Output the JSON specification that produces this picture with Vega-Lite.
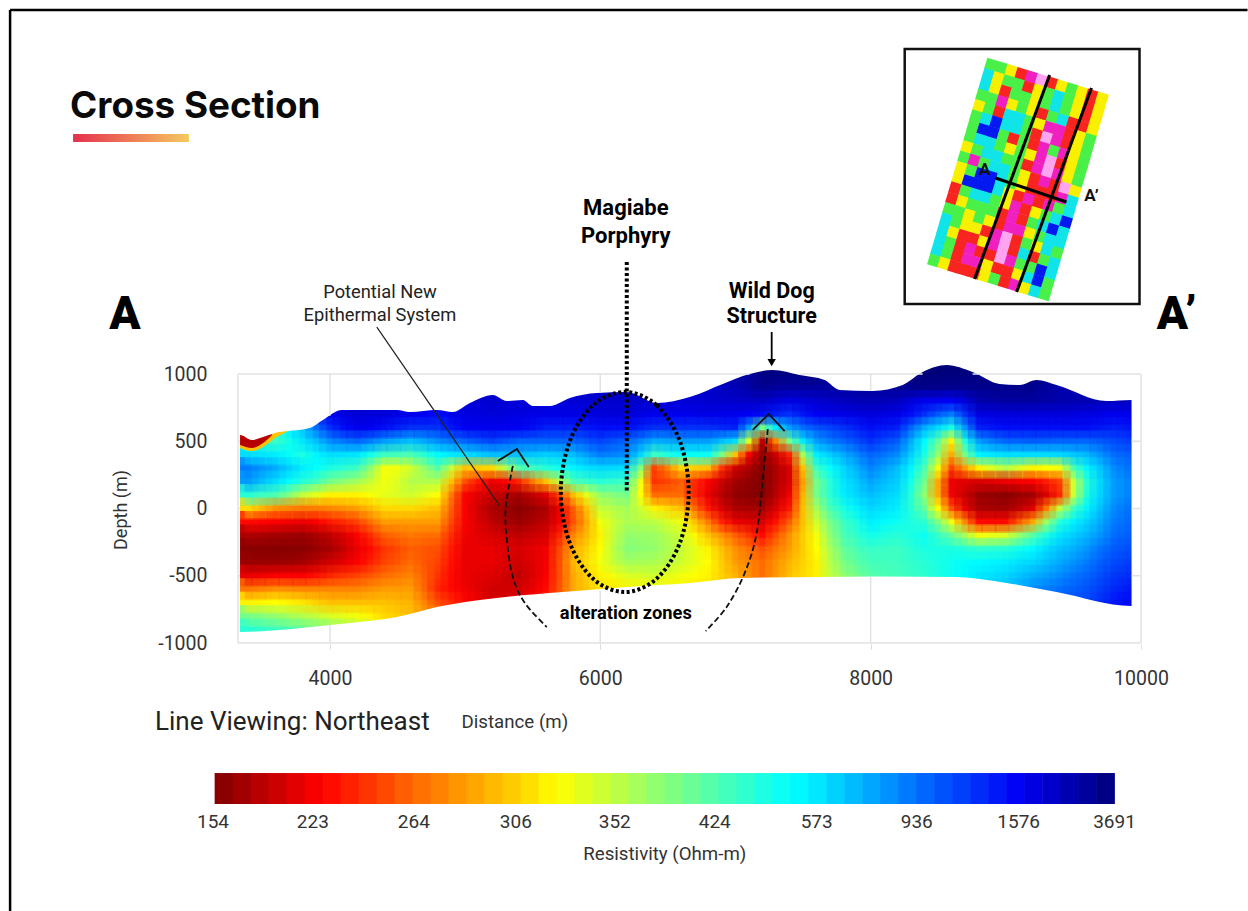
{"$schema":"https://vega.github.io/schema/vega-lite/v6.json","width":903,"height":269,"autosize":"none","padding":{"left":238,"top":374,"right":107,"bottom":268},"background":"white","config":{"view":{"stroke":null},"text":{"font":"Roboto","color":"#111"}},
"datasets":{"grid":[
{"x":3400,"y":600,"r":600},{"x":3400,"y":500,"r":500},{"x":3400,"y":400,"r":600},{"x":3400,"y":300,"r":900},{"x":3400,"y":200,"r":800},{"x":3400,"y":100,"r":480},{"x":3400,"y":0,"r":310},{"x":3400,"y":-100,"r":230},{"x":3400,"y":-200,"r":180},{"x":3400,"y":-300,"r":160},{"x":3400,"y":-400,"r":170},{"x":3400,"y":-500,"r":215},{"x":3400,"y":-600,"r":270},{"x":3400,"y":-700,"r":320},{"x":3400,"y":-800,"r":400},{"x":3400,"y":-900,"r":480},
{"x":3500,"y":600,"r":520},{"x":3500,"y":500,"r":470},{"x":3500,"y":400,"r":580},{"x":3500,"y":300,"r":820},{"x":3500,"y":200,"r":690},{"x":3500,"y":100,"r":450},{"x":3500,"y":0,"r":295},{"x":3500,"y":-100,"r":228},{"x":3500,"y":-200,"r":178},{"x":3500,"y":-300,"r":159},{"x":3500,"y":-400,"r":170},{"x":3500,"y":-500,"r":220},{"x":3500,"y":-600,"r":275},{"x":3500,"y":-700,"r":322},{"x":3500,"y":-800,"r":390},{"x":3500,"y":-900,"r":465},
{"x":3600,"y":600,"r":450},{"x":3600,"y":500,"r":450},{"x":3600,"y":400,"r":560},{"x":3600,"y":300,"r":750},{"x":3600,"y":200,"r":600},{"x":3600,"y":100,"r":430},{"x":3600,"y":0,"r":280},{"x":3600,"y":-100,"r":225},{"x":3600,"y":-200,"r":175},{"x":3600,"y":-300,"r":158},{"x":3600,"y":-400,"r":170},{"x":3600,"y":-500,"r":225},{"x":3600,"y":-600,"r":280},{"x":3600,"y":-700,"r":325},{"x":3600,"y":-800,"r":380},{"x":3600,"y":-900,"r":450},
{"x":3700,"y":700,"r":700},{"x":3700,"y":600,"r":560},{"x":3700,"y":500,"r":510},{"x":3700,"y":400,"r":530},{"x":3700,"y":300,"r":650},{"x":3700,"y":200,"r":535},{"x":3700,"y":100,"r":390},{"x":3700,"y":0,"r":275},{"x":3700,"y":-100,"r":220},{"x":3700,"y":-200,"r":172},{"x":3700,"y":-300,"r":159},{"x":3700,"y":-400,"r":172},{"x":3700,"y":-500,"r":225},{"x":3700,"y":-600,"r":278},{"x":3700,"y":-700,"r":320},{"x":3700,"y":-800,"r":370},{"x":3700,"y":-900,"r":435},
{"x":3800,"y":700,"r":900},{"x":3800,"y":600,"r":700},{"x":3800,"y":500,"r":580},{"x":3800,"y":400,"r":500},{"x":3800,"y":300,"r":560},{"x":3800,"y":200,"r":480},{"x":3800,"y":100,"r":350},{"x":3800,"y":0,"r":270},{"x":3800,"y":-100,"r":215},{"x":3800,"y":-200,"r":170},{"x":3800,"y":-300,"r":160},{"x":3800,"y":-400,"r":175},{"x":3800,"y":-500,"r":225},{"x":3800,"y":-600,"r":275},{"x":3800,"y":-700,"r":315},{"x":3800,"y":-800,"r":360},{"x":3800,"y":-900,"r":420},
{"x":3900,"y":800,"r":1500},{"x":3900,"y":700,"r":1250},{"x":3900,"y":600,"r":950},{"x":3900,"y":500,"r":700},{"x":3900,"y":400,"r":550},{"x":3900,"y":300,"r":530},{"x":3900,"y":200,"r":440},{"x":3900,"y":100,"r":335},{"x":3900,"y":0,"r":272},{"x":3900,"y":-100,"r":225},{"x":3900,"y":-200,"r":180},{"x":3900,"y":-300,"r":167},{"x":3900,"y":-400,"r":187},{"x":3900,"y":-500,"r":232},{"x":3900,"y":-600,"r":275},{"x":3900,"y":-700,"r":307},{"x":3900,"y":-800,"r":350},{"x":3900,"y":-900,"r":410},
{"x":4000,"y":800,"r":1900},{"x":4000,"y":700,"r":1700},{"x":4000,"y":600,"r":1300},{"x":4000,"y":500,"r":850},{"x":4000,"y":400,"r":600},{"x":4000,"y":300,"r":500},{"x":4000,"y":200,"r":400},{"x":4000,"y":100,"r":320},{"x":4000,"y":0,"r":275},{"x":4000,"y":-100,"r":235},{"x":4000,"y":-200,"r":190},{"x":4000,"y":-300,"r":175},{"x":4000,"y":-400,"r":200},{"x":4000,"y":-500,"r":240},{"x":4000,"y":-600,"r":275},{"x":4000,"y":-700,"r":300},{"x":4000,"y":-800,"r":340},{"x":4000,"y":-900,"r":400},
{"x":4100,"y":800,"r":2050},{"x":4100,"y":700,"r":1900},{"x":4100,"y":600,"r":1500},{"x":4100,"y":500,"r":920},{"x":4100,"y":400,"r":590},{"x":4100,"y":300,"r":475},{"x":4100,"y":200,"r":385},{"x":4100,"y":100,"r":320},{"x":4100,"y":0,"r":280},{"x":4100,"y":-100,"r":242},{"x":4100,"y":-200,"r":207},{"x":4100,"y":-300,"r":193},{"x":4100,"y":-400,"r":212},{"x":4100,"y":-500,"r":245},{"x":4100,"y":-600,"r":275},{"x":4100,"y":-700,"r":300},{"x":4100,"y":-800,"r":335},{"x":4100,"y":-900,"r":380},
{"x":4200,"y":800,"r":2200},{"x":4200,"y":700,"r":2100},{"x":4200,"y":600,"r":1700},{"x":4200,"y":500,"r":1000},{"x":4200,"y":400,"r":580},{"x":4200,"y":300,"r":450},{"x":4200,"y":200,"r":370},{"x":4200,"y":100,"r":320},{"x":4200,"y":0,"r":285},{"x":4200,"y":-100,"r":250},{"x":4200,"y":-200,"r":225},{"x":4200,"y":-300,"r":215},{"x":4200,"y":-400,"r":225},{"x":4200,"y":-500,"r":250},{"x":4200,"y":-600,"r":275},{"x":4200,"y":-700,"r":300},{"x":4200,"y":-800,"r":330},{"x":4200,"y":-900,"r":360},
{"x":4300,"y":800,"r":2150},{"x":4300,"y":700,"r":2050},{"x":4300,"y":600,"r":1600},{"x":4300,"y":500,"r":900},{"x":4300,"y":400,"r":510},{"x":4300,"y":300,"r":385},{"x":4300,"y":200,"r":350},{"x":4300,"y":100,"r":327},{"x":4300,"y":0,"r":297},{"x":4300,"y":-100,"r":267},{"x":4300,"y":-200,"r":242},{"x":4300,"y":-300,"r":230},{"x":4300,"y":-400,"r":237},{"x":4300,"y":-500,"r":257},{"x":4300,"y":-600,"r":280},{"x":4300,"y":-700,"r":300},{"x":4300,"y":-800,"r":320},{"x":4300,"y":-900,"r":345},
{"x":4400,"y":800,"r":2100},{"x":4400,"y":700,"r":2000},{"x":4400,"y":600,"r":1500},{"x":4400,"y":500,"r":800},{"x":4400,"y":400,"r":450},{"x":4400,"y":300,"r":330},{"x":4400,"y":200,"r":330},{"x":4400,"y":100,"r":335},{"x":4400,"y":0,"r":310},{"x":4400,"y":-100,"r":285},{"x":4400,"y":-200,"r":260},{"x":4400,"y":-300,"r":245},{"x":4400,"y":-400,"r":250},{"x":4400,"y":-500,"r":265},{"x":4400,"y":-600,"r":285},{"x":4400,"y":-700,"r":300},{"x":4400,"y":-800,"r":310},{"x":4400,"y":-900,"r":330},
{"x":4500,"y":800,"r":2050},{"x":4500,"y":700,"r":1850},{"x":4500,"y":600,"r":1400},{"x":4500,"y":500,"r":750},{"x":4500,"y":400,"r":440},{"x":4500,"y":300,"r":330},{"x":4500,"y":200,"r":340},{"x":4500,"y":100,"r":340},{"x":4500,"y":0,"r":310},{"x":4500,"y":-100,"r":285},{"x":4500,"y":-200,"r":265},{"x":4500,"y":-300,"r":252},{"x":4500,"y":-400,"r":257},{"x":4500,"y":-500,"r":270},{"x":4500,"y":-600,"r":285},{"x":4500,"y":-700,"r":297},{"x":4500,"y":-800,"r":305},
{"x":4600,"y":800,"r":2000},{"x":4600,"y":700,"r":1700},{"x":4600,"y":600,"r":1300},{"x":4600,"y":500,"r":700},{"x":4600,"y":400,"r":430},{"x":4600,"y":300,"r":345},{"x":4600,"y":200,"r":360},{"x":4600,"y":100,"r":345},{"x":4600,"y":0,"r":310},{"x":4600,"y":-100,"r":285},{"x":4600,"y":-200,"r":270},{"x":4600,"y":-300,"r":260},{"x":4600,"y":-400,"r":265},{"x":4600,"y":-500,"r":275},{"x":4600,"y":-600,"r":285},{"x":4600,"y":-700,"r":295},{"x":4600,"y":-800,"r":300},
{"x":4700,"y":800,"r":1950},{"x":4700,"y":700,"r":1600},{"x":4700,"y":600,"r":1300},{"x":4700,"y":500,"r":770},{"x":4700,"y":400,"r":480},{"x":4700,"y":300,"r":380},{"x":4700,"y":200,"r":360},{"x":4700,"y":100,"r":335},{"x":4700,"y":0,"r":305},{"x":4700,"y":-100,"r":285},{"x":4700,"y":-200,"r":267},{"x":4700,"y":-300,"r":257},{"x":4700,"y":-400,"r":257},{"x":4700,"y":-500,"r":260},{"x":4700,"y":-600,"r":262},{"x":4700,"y":-700,"r":275},{"x":4700,"y":-800,"r":285},
{"x":4800,"y":800,"r":1900},{"x":4800,"y":700,"r":1500},{"x":4800,"y":600,"r":1300},{"x":4800,"y":500,"r":850},{"x":4800,"y":400,"r":540},{"x":4800,"y":300,"r":420},{"x":4800,"y":200,"r":360},{"x":4800,"y":100,"r":325},{"x":4800,"y":0,"r":300},{"x":4800,"y":-100,"r":285},{"x":4800,"y":-200,"r":265},{"x":4800,"y":-300,"r":255},{"x":4800,"y":-400,"r":250},{"x":4800,"y":-500,"r":245},{"x":4800,"y":-600,"r":240},{"x":4800,"y":-700,"r":255},{"x":4800,"y":-800,"r":270},
{"x":4900,"y":800,"r":1950},{"x":4900,"y":700,"r":1700},{"x":4900,"y":600,"r":1450},{"x":4900,"y":500,"r":920},{"x":4900,"y":400,"r":570},{"x":4900,"y":300,"r":350},{"x":4900,"y":200,"r":300},{"x":4900,"y":100,"r":270},{"x":4900,"y":0,"r":260},{"x":4900,"y":-100,"r":252},{"x":4900,"y":-200,"r":242},{"x":4900,"y":-300,"r":235},{"x":4900,"y":-400,"r":232},{"x":4900,"y":-500,"r":230},{"x":4900,"y":-600,"r":230},{"x":4900,"y":-700,"r":242},{"x":4900,"y":-800,"r":255},
{"x":5000,"y":800,"r":2000},{"x":5000,"y":700,"r":1900},{"x":5000,"y":600,"r":1600},{"x":5000,"y":500,"r":1000},{"x":5000,"y":400,"r":600},{"x":5000,"y":300,"r":300},{"x":5000,"y":200,"r":255},{"x":5000,"y":100,"r":225},{"x":5000,"y":0,"r":225},{"x":5000,"y":-100,"r":225},{"x":5000,"y":-200,"r":220},{"x":5000,"y":-300,"r":215},{"x":5000,"y":-400,"r":215},{"x":5000,"y":-500,"r":215},{"x":5000,"y":-600,"r":220},{"x":5000,"y":-700,"r":230},{"x":5000,"y":-800,"r":240},
{"x":5100,"y":800,"r":2100},{"x":5100,"y":700,"r":1950},{"x":5100,"y":600,"r":1650},{"x":5100,"y":500,"r":1100},{"x":5100,"y":400,"r":650},{"x":5100,"y":300,"r":305},{"x":5100,"y":200,"r":235},{"x":5100,"y":100,"r":210},{"x":5100,"y":0,"r":200},{"x":5100,"y":-100,"r":207},{"x":5100,"y":-200,"r":212},{"x":5100,"y":-300,"r":215},{"x":5100,"y":-400,"r":215},{"x":5100,"y":-500,"r":212},{"x":5100,"y":-600,"r":210},{"x":5100,"y":-700,"r":217},{"x":5100,"y":-800,"r":225},
{"x":5200,"y":900,"r":2300},{"x":5200,"y":800,"r":2200},{"x":5200,"y":700,"r":2000},{"x":5200,"y":600,"r":1700},{"x":5200,"y":500,"r":1200},{"x":5200,"y":400,"r":700},{"x":5200,"y":300,"r":310},{"x":5200,"y":200,"r":215},{"x":5200,"y":100,"r":195},{"x":5200,"y":0,"r":180},{"x":5200,"y":-100,"r":190},{"x":5200,"y":-200,"r":205},{"x":5200,"y":-300,"r":215},{"x":5200,"y":-400,"r":215},{"x":5200,"y":-500,"r":210},{"x":5200,"y":-600,"r":200},{"x":5200,"y":-700,"r":205},
{"x":5300,"y":900,"r":2250},{"x":5300,"y":800,"r":2150},{"x":5300,"y":700,"r":1950},{"x":5300,"y":600,"r":1650},{"x":5300,"y":500,"r":1100},{"x":5300,"y":400,"r":700},{"x":5300,"y":300,"r":360},{"x":5300,"y":200,"r":227},{"x":5300,"y":100,"r":185},{"x":5300,"y":0,"r":170},{"x":5300,"y":-100,"r":180},{"x":5300,"y":-200,"r":197},{"x":5300,"y":-300,"r":210},{"x":5300,"y":-400,"r":207},{"x":5300,"y":-500,"r":200},{"x":5300,"y":-600,"r":200},{"x":5300,"y":-700,"r":207},
{"x":5400,"y":900,"r":2200},{"x":5400,"y":800,"r":2100},{"x":5400,"y":700,"r":1900},{"x":5400,"y":600,"r":1600},{"x":5400,"y":500,"r":1000},{"x":5400,"y":400,"r":700},{"x":5400,"y":300,"r":420},{"x":5400,"y":200,"r":240},{"x":5400,"y":100,"r":175},{"x":5400,"y":0,"r":160},{"x":5400,"y":-100,"r":170},{"x":5400,"y":-200,"r":190},{"x":5400,"y":-300,"r":205},{"x":5400,"y":-400,"r":200},{"x":5400,"y":-500,"r":190},{"x":5400,"y":-600,"r":200},{"x":5400,"y":-700,"r":210},
{"x":5500,"y":900,"r":2150},{"x":5500,"y":800,"r":2050},{"x":5500,"y":700,"r":1850},{"x":5500,"y":600,"r":1500},{"x":5500,"y":500,"r":1000},{"x":5500,"y":400,"r":675},{"x":5500,"y":300,"r":450},{"x":5500,"y":200,"r":270},{"x":5500,"y":100,"r":192},{"x":5500,"y":0,"r":170},{"x":5500,"y":-100,"r":180},{"x":5500,"y":-200,"r":197},{"x":5500,"y":-300,"r":212},{"x":5500,"y":-400,"r":210},{"x":5500,"y":-500,"r":207},{"x":5500,"y":-600,"r":215},{"x":5500,"y":-700,"r":225},
{"x":5600,"y":900,"r":2100},{"x":5600,"y":800,"r":2000},{"x":5600,"y":700,"r":1800},{"x":5600,"y":600,"r":1400},{"x":5600,"y":500,"r":1000},{"x":5600,"y":400,"r":650},{"x":5600,"y":300,"r":480},{"x":5600,"y":200,"r":300},{"x":5600,"y":100,"r":210},{"x":5600,"y":0,"r":180},{"x":5600,"y":-100,"r":190},{"x":5600,"y":-200,"r":205},{"x":5600,"y":-300,"r":220},{"x":5600,"y":-400,"r":220},{"x":5600,"y":-500,"r":225},{"x":5600,"y":-600,"r":230},{"x":5600,"y":-700,"r":240},
{"x":5700,"y":900,"r":2150},{"x":5700,"y":800,"r":2050},{"x":5700,"y":700,"r":1800},{"x":5700,"y":600,"r":1400},{"x":5700,"y":500,"r":1000},{"x":5700,"y":400,"r":675},{"x":5700,"y":300,"r":515},{"x":5700,"y":200,"r":360},{"x":5700,"y":100,"r":250},{"x":5700,"y":0,"r":217},{"x":5700,"y":-100,"r":220},{"x":5700,"y":-200,"r":240},{"x":5700,"y":-300,"r":252},{"x":5700,"y":-400,"r":255},{"x":5700,"y":-500,"r":255},{"x":5700,"y":-600,"r":257},{"x":5700,"y":-700,"r":265},
{"x":5800,"y":900,"r":2200},{"x":5800,"y":800,"r":2100},{"x":5800,"y":700,"r":1800},{"x":5800,"y":600,"r":1400},{"x":5800,"y":500,"r":1000},{"x":5800,"y":400,"r":700},{"x":5800,"y":300,"r":550},{"x":5800,"y":200,"r":430},{"x":5800,"y":100,"r":300},{"x":5800,"y":0,"r":260},{"x":5800,"y":-100,"r":255},{"x":5800,"y":-200,"r":275},{"x":5800,"y":-300,"r":290},{"x":5800,"y":-400,"r":295},{"x":5800,"y":-500,"r":290},{"x":5800,"y":-600,"r":290},{"x":5800,"y":-700,"r":290},
{"x":5900,"y":900,"r":2250},{"x":5900,"y":800,"r":2150},{"x":5900,"y":700,"r":1900},{"x":5900,"y":600,"r":1450},{"x":5900,"y":500,"r":1100},{"x":5900,"y":400,"r":800},{"x":5900,"y":300,"r":585},{"x":5900,"y":200,"r":455},{"x":5900,"y":100,"r":337},{"x":5900,"y":0,"r":300},{"x":5900,"y":-100,"r":290},{"x":5900,"y":-200,"r":297},{"x":5900,"y":-300,"r":307},{"x":5900,"y":-400,"r":312},{"x":5900,"y":-500,"r":305},{"x":5900,"y":-600,"r":302},{"x":5900,"y":-700,"r":302},
{"x":6000,"y":900,"r":2300},{"x":6000,"y":800,"r":2200},{"x":6000,"y":700,"r":2000},{"x":6000,"y":600,"r":1500},{"x":6000,"y":500,"r":1200},{"x":6000,"y":400,"r":900},{"x":6000,"y":300,"r":620},{"x":6000,"y":200,"r":480},{"x":6000,"y":100,"r":380},{"x":6000,"y":0,"r":350},{"x":6000,"y":-100,"r":330},{"x":6000,"y":-200,"r":320},{"x":6000,"y":-300,"r":325},{"x":6000,"y":-400,"r":330},{"x":6000,"y":-500,"r":320},{"x":6000,"y":-600,"r":315},{"x":6000,"y":-700,"r":315},
{"x":6100,"y":900,"r":2350},{"x":6100,"y":800,"r":2250},{"x":6100,"y":700,"r":2000},{"x":6100,"y":600,"r":1500},{"x":6100,"y":500,"r":1100},{"x":6100,"y":400,"r":875},{"x":6100,"y":300,"r":610},{"x":6100,"y":200,"r":465},{"x":6100,"y":100,"r":390},{"x":6100,"y":0,"r":360},{"x":6100,"y":-100,"r":347},{"x":6100,"y":-200,"r":350},{"x":6100,"y":-300,"r":355},{"x":6100,"y":-400,"r":350},{"x":6100,"y":-500,"r":330},{"x":6100,"y":-600,"r":317},{"x":6100,"y":-700,"r":317},
{"x":6200,"y":900,"r":2400},{"x":6200,"y":800,"r":2300},{"x":6200,"y":700,"r":2000},{"x":6200,"y":600,"r":1500},{"x":6200,"y":500,"r":1000},{"x":6200,"y":400,"r":850},{"x":6200,"y":300,"r":600},{"x":6200,"y":200,"r":450},{"x":6200,"y":100,"r":400},{"x":6200,"y":0,"r":370},{"x":6200,"y":-100,"r":365},{"x":6200,"y":-200,"r":380},{"x":6200,"y":-300,"r":390},{"x":6200,"y":-400,"r":370},{"x":6200,"y":-500,"r":340},{"x":6200,"y":-600,"r":320},{"x":6200,"y":-700,"r":320},
{"x":6300,"y":900,"r":2350},{"x":6300,"y":800,"r":2250},{"x":6300,"y":700,"r":1850},{"x":6300,"y":600,"r":1400},{"x":6300,"y":500,"r":870},{"x":6300,"y":400,"r":620},{"x":6300,"y":300,"r":390},{"x":6300,"y":200,"r":330},{"x":6300,"y":100,"r":325},{"x":6300,"y":0,"r":345},{"x":6300,"y":-100,"r":360},{"x":6300,"y":-200,"r":377},{"x":6300,"y":-300,"r":385},{"x":6300,"y":-400,"r":367},{"x":6300,"y":-500,"r":342},{"x":6300,"y":-600,"r":322},
{"x":6400,"y":900,"r":2300},{"x":6400,"y":800,"r":2200},{"x":6400,"y":700,"r":1700},{"x":6400,"y":600,"r":1300},{"x":6400,"y":500,"r":750},{"x":6400,"y":400,"r":450},{"x":6400,"y":300,"r":250},{"x":6400,"y":200,"r":245},{"x":6400,"y":100,"r":265},{"x":6400,"y":0,"r":320},{"x":6400,"y":-100,"r":355},{"x":6400,"y":-200,"r":375},{"x":6400,"y":-300,"r":380},{"x":6400,"y":-400,"r":365},{"x":6400,"y":-500,"r":345},{"x":6400,"y":-600,"r":325},
{"x":6500,"y":900,"r":2250},{"x":6500,"y":800,"r":2150},{"x":6500,"y":700,"r":1700},{"x":6500,"y":600,"r":1300},{"x":6500,"y":500,"r":775},{"x":6500,"y":400,"r":490},{"x":6500,"y":300,"r":275},{"x":6500,"y":200,"r":250},{"x":6500,"y":100,"r":265},{"x":6500,"y":0,"r":310},{"x":6500,"y":-100,"r":342},{"x":6500,"y":-200,"r":360},{"x":6500,"y":-300,"r":365},{"x":6500,"y":-400,"r":355},{"x":6500,"y":-500,"r":337},{"x":6500,"y":-600,"r":322},
{"x":6600,"y":900,"r":2200},{"x":6600,"y":800,"r":2100},{"x":6600,"y":700,"r":1700},{"x":6600,"y":600,"r":1300},{"x":6600,"y":500,"r":800},{"x":6600,"y":400,"r":530},{"x":6600,"y":300,"r":310},{"x":6600,"y":200,"r":260},{"x":6600,"y":100,"r":265},{"x":6600,"y":0,"r":300},{"x":6600,"y":-100,"r":330},{"x":6600,"y":-200,"r":345},{"x":6600,"y":-300,"r":350},{"x":6600,"y":-400,"r":345},{"x":6600,"y":-500,"r":330},{"x":6600,"y":-600,"r":320},
{"x":6700,"y":900,"r":2250},{"x":6700,"y":800,"r":2150},{"x":6700,"y":700,"r":1750},{"x":6700,"y":600,"r":1300},{"x":6700,"y":500,"r":800},{"x":6700,"y":400,"r":525},{"x":6700,"y":300,"r":305},{"x":6700,"y":200,"r":242},{"x":6700,"y":100,"r":240},{"x":6700,"y":0,"r":265},{"x":6700,"y":-100,"r":300},{"x":6700,"y":-200,"r":322},{"x":6700,"y":-300,"r":335},{"x":6700,"y":-400,"r":335},{"x":6700,"y":-500,"r":325},{"x":6700,"y":-600,"r":317},
{"x":6800,"y":900,"r":2300},{"x":6800,"y":800,"r":2200},{"x":6800,"y":700,"r":1800},{"x":6800,"y":600,"r":1300},{"x":6800,"y":500,"r":800},{"x":6800,"y":400,"r":520},{"x":6800,"y":300,"r":300},{"x":6800,"y":200,"r":225},{"x":6800,"y":100,"r":215},{"x":6800,"y":0,"r":235},{"x":6800,"y":-100,"r":270},{"x":6800,"y":-200,"r":300},{"x":6800,"y":-300,"r":320},{"x":6800,"y":-400,"r":325},{"x":6800,"y":-500,"r":320},{"x":6800,"y":-600,"r":315},
{"x":6900,"y":1000,"r":2600},{"x":6900,"y":900,"r":2450},{"x":6900,"y":800,"r":2250},{"x":6900,"y":700,"r":1750},{"x":6900,"y":600,"r":1350},{"x":6900,"y":500,"r":700},{"x":6900,"y":400,"r":400},{"x":6900,"y":300,"r":245},{"x":6900,"y":200,"r":197},{"x":6900,"y":100,"r":187},{"x":6900,"y":0,"r":205},{"x":6900,"y":-100,"r":240},{"x":6900,"y":-200,"r":280},{"x":6900,"y":-300,"r":300},{"x":6900,"y":-400,"r":305},{"x":6900,"y":-500,"r":307},{"x":6900,"y":-600,"r":305},
{"x":7000,"y":1000,"r":2800},{"x":7000,"y":900,"r":2600},{"x":7000,"y":800,"r":2300},{"x":7000,"y":700,"r":1700},{"x":7000,"y":600,"r":1400},{"x":7000,"y":500,"r":600},{"x":7000,"y":400,"r":300},{"x":7000,"y":300,"r":200},{"x":7000,"y":200,"r":175},{"x":7000,"y":100,"r":165},{"x":7000,"y":0,"r":180},{"x":7000,"y":-100,"r":215},{"x":7000,"y":-200,"r":260},{"x":7000,"y":-300,"r":280},{"x":7000,"y":-400,"r":285},{"x":7000,"y":-500,"r":295},{"x":7000,"y":-600,"r":295},
{"x":7100,"y":1100,"r":3200},{"x":7100,"y":1000,"r":3100},{"x":7100,"y":900,"r":2900},{"x":7100,"y":800,"r":2350},{"x":7100,"y":700,"r":1600},{"x":7100,"y":600,"r":800},{"x":7100,"y":500,"r":340},{"x":7100,"y":400,"r":220},{"x":7100,"y":300,"r":178},{"x":7100,"y":200,"r":165},{"x":7100,"y":100,"r":160},{"x":7100,"y":0,"r":177},{"x":7100,"y":-100,"r":210},{"x":7100,"y":-200,"r":245},{"x":7100,"y":-300,"r":267},{"x":7100,"y":-400,"r":275},{"x":7100,"y":-500,"r":280},{"x":7100,"y":-600,"r":280},
{"x":7200,"y":1100,"r":3600},{"x":7200,"y":1000,"r":3500},{"x":7200,"y":900,"r":3200},{"x":7200,"y":800,"r":2400},{"x":7200,"y":700,"r":1500},{"x":7200,"y":600,"r":400},{"x":7200,"y":500,"r":190},{"x":7200,"y":400,"r":165},{"x":7200,"y":300,"r":158},{"x":7200,"y":200,"r":155},{"x":7200,"y":100,"r":155},{"x":7200,"y":0,"r":175},{"x":7200,"y":-100,"r":205},{"x":7200,"y":-200,"r":230},{"x":7200,"y":-300,"r":255},{"x":7200,"y":-400,"r":265},{"x":7200,"y":-500,"r":265},{"x":7200,"y":-600,"r":265},
{"x":7300,"y":1100,"r":3600},{"x":7300,"y":1000,"r":3500},{"x":7300,"y":900,"r":3100},{"x":7300,"y":800,"r":2150},{"x":7300,"y":700,"r":1400},{"x":7300,"y":600,"r":570},{"x":7300,"y":500,"r":275},{"x":7300,"y":400,"r":197},{"x":7300,"y":300,"r":180},{"x":7300,"y":200,"r":180},{"x":7300,"y":100,"r":185},{"x":7300,"y":0,"r":205},{"x":7300,"y":-100,"r":232},{"x":7300,"y":-200,"r":255},{"x":7300,"y":-300,"r":270},{"x":7300,"y":-400,"r":280},{"x":7300,"y":-500,"r":282},{"x":7300,"y":-600,"r":282},
{"x":7400,"y":1100,"r":3600},{"x":7400,"y":1000,"r":3500},{"x":7400,"y":900,"r":3000},{"x":7400,"y":800,"r":1900},{"x":7400,"y":700,"r":1300},{"x":7400,"y":600,"r":800},{"x":7400,"y":500,"r":400},{"x":7400,"y":400,"r":240},{"x":7400,"y":300,"r":205},{"x":7400,"y":200,"r":205},{"x":7400,"y":100,"r":220},{"x":7400,"y":0,"r":235},{"x":7400,"y":-100,"r":260},{"x":7400,"y":-200,"r":280},{"x":7400,"y":-300,"r":285},{"x":7400,"y":-400,"r":295},{"x":7400,"y":-500,"r":300},{"x":7400,"y":-600,"r":300},
{"x":7500,"y":1000,"r":3500},{"x":7500,"y":900,"r":3000},{"x":7500,"y":800,"r":2050},{"x":7500,"y":700,"r":1450},{"x":7500,"y":600,"r":950},{"x":7500,"y":500,"r":570},{"x":7500,"y":400,"r":370},{"x":7500,"y":300,"r":300},{"x":7500,"y":200,"r":285},{"x":7500,"y":100,"r":295},{"x":7500,"y":0,"r":300},{"x":7500,"y":-100,"r":300},{"x":7500,"y":-200,"r":305},{"x":7500,"y":-300,"r":305},{"x":7500,"y":-400,"r":307},{"x":7500,"y":-500,"r":310},{"x":7500,"y":-600,"r":310},
{"x":7600,"y":1000,"r":3500},{"x":7600,"y":900,"r":3000},{"x":7600,"y":800,"r":2200},{"x":7600,"y":700,"r":1600},{"x":7600,"y":600,"r":1100},{"x":7600,"y":500,"r":800},{"x":7600,"y":400,"r":560},{"x":7600,"y":300,"r":450},{"x":7600,"y":200,"r":400},{"x":7600,"y":100,"r":400},{"x":7600,"y":0,"r":370},{"x":7600,"y":-100,"r":345},{"x":7600,"y":-200,"r":330},{"x":7600,"y":-300,"r":325},{"x":7600,"y":-400,"r":320},{"x":7600,"y":-500,"r":320},{"x":7600,"y":-600,"r":320},
{"x":7700,"y":1000,"r":3200},{"x":7700,"y":900,"r":3000},{"x":7700,"y":800,"r":2350},{"x":7700,"y":700,"r":1700},{"x":7700,"y":600,"r":1200},{"x":7700,"y":500,"r":900},{"x":7700,"y":400,"r":650},{"x":7700,"y":300,"r":530},{"x":7700,"y":200,"r":480},{"x":7700,"y":100,"r":475},{"x":7700,"y":0,"r":430},{"x":7700,"y":-100,"r":395},{"x":7700,"y":-200,"r":380},{"x":7700,"y":-300,"r":365},{"x":7700,"y":-400,"r":355},{"x":7700,"y":-500,"r":350},{"x":7700,"y":-600,"r":350},
{"x":7800,"y":900,"r":3000},{"x":7800,"y":800,"r":2500},{"x":7800,"y":700,"r":1800},{"x":7800,"y":600,"r":1300},{"x":7800,"y":500,"r":1000},{"x":7800,"y":400,"r":750},{"x":7800,"y":300,"r":620},{"x":7800,"y":200,"r":580},{"x":7800,"y":100,"r":560},{"x":7800,"y":0,"r":500},{"x":7800,"y":-100,"r":450},{"x":7800,"y":-200,"r":430},{"x":7800,"y":-300,"r":410},{"x":7800,"y":-400,"r":395},{"x":7800,"y":-500,"r":380},{"x":7800,"y":-600,"r":380},
{"x":7900,"y":900,"r":3000},{"x":7900,"y":800,"r":2600},{"x":7900,"y":700,"r":1900},{"x":7900,"y":600,"r":1400},{"x":7900,"y":500,"r":1150},{"x":7900,"y":400,"r":870},{"x":7900,"y":300,"r":740},{"x":7900,"y":200,"r":670},{"x":7900,"y":100,"r":625},{"x":7900,"y":0,"r":555},{"x":7900,"y":-100,"r":500},{"x":7900,"y":-200,"r":470},{"x":7900,"y":-300,"r":435},{"x":7900,"y":-400,"r":417},{"x":7900,"y":-500,"r":400},{"x":7900,"y":-600,"r":400},
{"x":8000,"y":900,"r":3000},{"x":8000,"y":800,"r":2700},{"x":8000,"y":700,"r":2000},{"x":8000,"y":600,"r":1500},{"x":8000,"y":500,"r":1300},{"x":8000,"y":400,"r":1000},{"x":8000,"y":300,"r":880},{"x":8000,"y":200,"r":780},{"x":8000,"y":100,"r":700},{"x":8000,"y":0,"r":620},{"x":8000,"y":-100,"r":560},{"x":8000,"y":-200,"r":510},{"x":8000,"y":-300,"r":460},{"x":8000,"y":-400,"r":440},{"x":8000,"y":-500,"r":420},{"x":8000,"y":-600,"r":420},
{"x":8100,"y":900,"r":3100},{"x":8100,"y":800,"r":2600},{"x":8100,"y":700,"r":1900},{"x":8100,"y":600,"r":1450},{"x":8100,"y":500,"r":1170},{"x":8100,"y":400,"r":920},{"x":8100,"y":300,"r":790},{"x":8100,"y":200,"r":710},{"x":8100,"y":100,"r":650},{"x":8100,"y":0,"r":590},{"x":8100,"y":-100,"r":540},{"x":8100,"y":-200,"r":495},{"x":8100,"y":-300,"r":455},{"x":8100,"y":-400,"r":445},{"x":8100,"y":-500,"r":430},{"x":8100,"y":-600,"r":430},
{"x":8200,"y":1000,"r":3400},{"x":8200,"y":900,"r":3200},{"x":8200,"y":800,"r":2500},{"x":8200,"y":700,"r":1800},{"x":8200,"y":600,"r":1400},{"x":8200,"y":500,"r":1050},{"x":8200,"y":400,"r":850},{"x":8200,"y":300,"r":700},{"x":8200,"y":200,"r":650},{"x":8200,"y":100,"r":600},{"x":8200,"y":0,"r":560},{"x":8200,"y":-100,"r":520},{"x":8200,"y":-200,"r":480},{"x":8200,"y":-300,"r":450},{"x":8200,"y":-400,"r":450},{"x":8200,"y":-500,"r":440},{"x":8200,"y":-600,"r":440},
{"x":8300,"y":1100,"r":3600},{"x":8300,"y":1000,"r":3500},{"x":8300,"y":900,"r":3300},{"x":8300,"y":800,"r":2050},{"x":8300,"y":700,"r":1500},{"x":8300,"y":600,"r":1000},{"x":8300,"y":500,"r":750},{"x":8300,"y":400,"r":650},{"x":8300,"y":300,"r":550},{"x":8300,"y":200,"r":510},{"x":8300,"y":100,"r":480},{"x":8300,"y":0,"r":480},{"x":8300,"y":-100,"r":495},{"x":8300,"y":-200,"r":500},{"x":8300,"y":-300,"r":475},{"x":8300,"y":-400,"r":465},{"x":8300,"y":-500,"r":455},{"x":8300,"y":-600,"r":455},
{"x":8400,"y":1200,"r":3690},{"x":8400,"y":1100,"r":3690},{"x":8400,"y":1000,"r":3600},{"x":8400,"y":900,"r":3400},{"x":8400,"y":800,"r":1700},{"x":8400,"y":700,"r":1300},{"x":8400,"y":600,"r":750},{"x":8400,"y":500,"r":540},{"x":8400,"y":400,"r":500},{"x":8400,"y":300,"r":430},{"x":8400,"y":200,"r":400},{"x":8400,"y":100,"r":380},{"x":8400,"y":0,"r":410},{"x":8400,"y":-100,"r":470},{"x":8400,"y":-200,"r":520},{"x":8400,"y":-300,"r":500},{"x":8400,"y":-400,"r":480},{"x":8400,"y":-500,"r":470},{"x":8400,"y":-600,"r":470},
{"x":8500,"y":1200,"r":3690},{"x":8500,"y":1100,"r":3690},{"x":8500,"y":1000,"r":3600},{"x":8500,"y":900,"r":3350},{"x":8500,"y":800,"r":1650},{"x":8500,"y":700,"r":1080},{"x":8500,"y":600,"r":610},{"x":8500,"y":500,"r":415},{"x":8500,"y":400,"r":380},{"x":8500,"y":300,"r":330},{"x":8500,"y":200,"r":290},{"x":8500,"y":100,"r":290},{"x":8500,"y":0,"r":325},{"x":8500,"y":-100,"r":395},{"x":8500,"y":-200,"r":460},{"x":8500,"y":-300,"r":500},{"x":8500,"y":-400,"r":500},{"x":8500,"y":-500,"r":495},{"x":8500,"y":-600,"r":495},
{"x":8600,"y":1200,"r":3690},{"x":8600,"y":1100,"r":3690},{"x":8600,"y":1000,"r":3600},{"x":8600,"y":900,"r":3300},{"x":8600,"y":800,"r":1600},{"x":8600,"y":700,"r":900},{"x":8600,"y":600,"r":500},{"x":8600,"y":500,"r":320},{"x":8600,"y":400,"r":290},{"x":8600,"y":300,"r":250},{"x":8600,"y":200,"r":215},{"x":8600,"y":100,"r":220},{"x":8600,"y":0,"r":255},{"x":8600,"y":-100,"r":330},{"x":8600,"y":-200,"r":410},{"x":8600,"y":-300,"r":500},{"x":8600,"y":-400,"r":520},{"x":8600,"y":-500,"r":520},{"x":8600,"y":-600,"r":520},
{"x":8700,"y":1200,"r":3690},{"x":8700,"y":1100,"r":3690},{"x":8700,"y":1000,"r":3550},{"x":8700,"y":900,"r":3300},{"x":8700,"y":800,"r":2100},{"x":8700,"y":700,"r":1300},{"x":8700,"y":600,"r":830},{"x":8700,"y":500,"r":500},{"x":8700,"y":400,"r":400},{"x":8700,"y":300,"r":285},{"x":8700,"y":200,"r":210},{"x":8700,"y":100,"r":195},{"x":8700,"y":0,"r":215},{"x":8700,"y":-100,"r":275},{"x":8700,"y":-200,"r":365},{"x":8700,"y":-300,"r":485},{"x":8700,"y":-400,"r":530},{"x":8700,"y":-500,"r":545},{"x":8700,"y":-600,"r":560},
{"x":8800,"y":1100,"r":3690},{"x":8800,"y":1000,"r":3500},{"x":8800,"y":900,"r":3300},{"x":8800,"y":800,"r":2800},{"x":8800,"y":700,"r":1900},{"x":8800,"y":600,"r":1400},{"x":8800,"y":500,"r":800},{"x":8800,"y":400,"r":550},{"x":8800,"y":300,"r":320},{"x":8800,"y":200,"r":205},{"x":8800,"y":100,"r":170},{"x":8800,"y":0,"r":180},{"x":8800,"y":-100,"r":230},{"x":8800,"y":-200,"r":330},{"x":8800,"y":-300,"r":470},{"x":8800,"y":-400,"r":540},{"x":8800,"y":-500,"r":570},{"x":8800,"y":-600,"r":600},
{"x":8900,"y":1000,"r":3500},{"x":8900,"y":900,"r":3300},{"x":8900,"y":800,"r":2900},{"x":8900,"y":700,"r":1950},{"x":8900,"y":600,"r":1450},{"x":8900,"y":500,"r":900},{"x":8900,"y":400,"r":575},{"x":8900,"y":300,"r":340},{"x":8900,"y":200,"r":210},{"x":8900,"y":100,"r":165},{"x":8900,"y":0,"r":177},{"x":8900,"y":-100,"r":230},{"x":8900,"y":-200,"r":335},{"x":8900,"y":-300,"r":475},{"x":8900,"y":-400,"r":550},{"x":8900,"y":-500,"r":595},{"x":8900,"y":-600,"r":650},
{"x":9000,"y":1000,"r":3500},{"x":9000,"y":900,"r":3300},{"x":9000,"y":800,"r":3000},{"x":9000,"y":700,"r":2000},{"x":9000,"y":600,"r":1500},{"x":9000,"y":500,"r":1000},{"x":9000,"y":400,"r":600},{"x":9000,"y":300,"r":360},{"x":9000,"y":200,"r":215},{"x":9000,"y":100,"r":160},{"x":9000,"y":0,"r":175},{"x":9000,"y":-100,"r":230},{"x":9000,"y":-200,"r":340},{"x":9000,"y":-300,"r":480},{"x":9000,"y":-400,"r":560},{"x":9000,"y":-500,"r":620},{"x":9000,"y":-600,"r":700},
{"x":9100,"y":1000,"r":3500},{"x":9100,"y":900,"r":3300},{"x":9100,"y":800,"r":3000},{"x":9100,"y":700,"r":2000},{"x":9100,"y":600,"r":1500},{"x":9100,"y":500,"r":1020},{"x":9100,"y":400,"r":600},{"x":9100,"y":300,"r":340},{"x":9100,"y":200,"r":220},{"x":9100,"y":100,"r":167},{"x":9100,"y":0,"r":190},{"x":9100,"y":-100,"r":258},{"x":9100,"y":-200,"r":377},{"x":9100,"y":-300,"r":510},{"x":9100,"y":-400,"r":590},{"x":9100,"y":-500,"r":680},{"x":9100,"y":-600,"r":770},
{"x":9200,"y":1000,"r":3500},{"x":9200,"y":900,"r":3300},{"x":9200,"y":800,"r":3000},{"x":9200,"y":700,"r":2000},{"x":9200,"y":600,"r":1500},{"x":9200,"y":500,"r":1050},{"x":9200,"y":400,"r":600},{"x":9200,"y":300,"r":320},{"x":9200,"y":200,"r":225},{"x":9200,"y":100,"r":175},{"x":9200,"y":0,"r":210},{"x":9200,"y":-100,"r":290},{"x":9200,"y":-200,"r":420},{"x":9200,"y":-300,"r":540},{"x":9200,"y":-400,"r":620},{"x":9200,"y":-500,"r":740},{"x":9200,"y":-600,"r":850},{"x":9200,"y":-700,"r":950},
{"x":9300,"y":1000,"r":3400},{"x":9300,"y":900,"r":3050},{"x":9300,"y":800,"r":2900},{"x":9300,"y":700,"r":2000},{"x":9300,"y":600,"r":1500},{"x":9300,"y":500,"r":1020},{"x":9300,"y":400,"r":610},{"x":9300,"y":300,"r":325},{"x":9300,"y":200,"r":237},{"x":9300,"y":100,"r":205},{"x":9300,"y":0,"r":270},{"x":9300,"y":-100,"r":375},{"x":9300,"y":-200,"r":495},{"x":9300,"y":-300,"r":605},{"x":9300,"y":-400,"r":690},{"x":9300,"y":-500,"r":790},{"x":9300,"y":-600,"r":900},{"x":9300,"y":-700,"r":1000},
{"x":9400,"y":1000,"r":3300},{"x":9400,"y":900,"r":2800},{"x":9400,"y":800,"r":2800},{"x":9400,"y":700,"r":2000},{"x":9400,"y":600,"r":1500},{"x":9400,"y":500,"r":1000},{"x":9400,"y":400,"r":620},{"x":9400,"y":300,"r":330},{"x":9400,"y":200,"r":250},{"x":9400,"y":100,"r":240},{"x":9400,"y":0,"r":350},{"x":9400,"y":-100,"r":480},{"x":9400,"y":-200,"r":580},{"x":9400,"y":-300,"r":680},{"x":9400,"y":-400,"r":760},{"x":9400,"y":-500,"r":850},{"x":9400,"y":-600,"r":950},{"x":9400,"y":-700,"r":1050},
{"x":9500,"y":1000,"r":3000},{"x":9500,"y":900,"r":2750},{"x":9500,"y":800,"r":2750},{"x":9500,"y":700,"r":1950},{"x":9500,"y":600,"r":1500},{"x":9500,"y":500,"r":1000},{"x":9500,"y":400,"r":670},{"x":9500,"y":300,"r":425},{"x":9500,"y":200,"r":345},{"x":9500,"y":100,"r":345},{"x":9500,"y":0,"r":440},{"x":9500,"y":-100,"r":555},{"x":9500,"y":-200,"r":650},{"x":9500,"y":-300,"r":745},{"x":9500,"y":-400,"r":825},{"x":9500,"y":-500,"r":920},{"x":9500,"y":-600,"r":1020},{"x":9500,"y":-700,"r":1120},{"x":9500,"y":-800,"r":1200},
{"x":9600,"y":900,"r":2700},{"x":9600,"y":800,"r":2700},{"x":9600,"y":700,"r":1900},{"x":9600,"y":600,"r":1500},{"x":9600,"y":500,"r":1000},{"x":9600,"y":400,"r":720},{"x":9600,"y":300,"r":550},{"x":9600,"y":200,"r":480},{"x":9600,"y":100,"r":500},{"x":9600,"y":0,"r":550},{"x":9600,"y":-100,"r":640},{"x":9600,"y":-200,"r":720},{"x":9600,"y":-300,"r":820},{"x":9600,"y":-400,"r":900},{"x":9600,"y":-500,"r":1000},{"x":9600,"y":-600,"r":1100},{"x":9600,"y":-700,"r":1200},{"x":9600,"y":-800,"r":1300},
{"x":9700,"y":900,"r":2600},{"x":9700,"y":800,"r":2600},{"x":9700,"y":700,"r":1800},{"x":9700,"y":600,"r":1450},{"x":9700,"y":500,"r":1070},{"x":9700,"y":400,"r":830},{"x":9700,"y":300,"r":680},{"x":9700,"y":200,"r":620},{"x":9700,"y":100,"r":630},{"x":9700,"y":0,"r":690},{"x":9700,"y":-100,"r":760},{"x":9700,"y":-200,"r":825},{"x":9700,"y":-300,"r":930},{"x":9700,"y":-400,"r":1020},{"x":9700,"y":-500,"r":1120},{"x":9700,"y":-600,"r":1220},{"x":9700,"y":-700,"r":1320},{"x":9700,"y":-800,"r":1420},
{"x":9800,"y":900,"r":2500},{"x":9800,"y":800,"r":2500},{"x":9800,"y":700,"r":1700},{"x":9800,"y":600,"r":1400},{"x":9800,"y":500,"r":1150},{"x":9800,"y":400,"r":950},{"x":9800,"y":300,"r":850},{"x":9800,"y":200,"r":800},{"x":9800,"y":100,"r":800},{"x":9800,"y":0,"r":850},{"x":9800,"y":-100,"r":900},{"x":9800,"y":-200,"r":950},{"x":9800,"y":-300,"r":1050},{"x":9800,"y":-400,"r":1150},{"x":9800,"y":-500,"r":1250},{"x":9800,"y":-600,"r":1350},{"x":9800,"y":-700,"r":1450},{"x":9800,"y":-800,"r":1550},
{"x":9900,"y":900,"r":2500},{"x":9900,"y":800,"r":2500},{"x":9900,"y":700,"r":1700},{"x":9900,"y":600,"r":1450},{"x":9900,"y":500,"r":1220},{"x":9900,"y":400,"r":1020},{"x":9900,"y":300,"r":920},{"x":9900,"y":200,"r":870},{"x":9900,"y":100,"r":870},{"x":9900,"y":0,"r":920},{"x":9900,"y":-100,"r":970},{"x":9900,"y":-200,"r":1020},{"x":9900,"y":-300,"r":1120},{"x":9900,"y":-400,"r":1220},{"x":9900,"y":-500,"r":1320},{"x":9900,"y":-600,"r":1420},{"x":9900,"y":-700,"r":1520},{"x":9900,"y":-800,"r":1600},
{"x":10000,"y":900,"r":2500},{"x":10000,"y":800,"r":2500},{"x":10000,"y":700,"r":1700},{"x":10000,"y":600,"r":1500},{"x":10000,"y":500,"r":1300},{"x":10000,"y":400,"r":1100},{"x":10000,"y":300,"r":1000},{"x":10000,"y":200,"r":950},{"x":10000,"y":100,"r":950},{"x":10000,"y":0,"r":1000},{"x":10000,"y":-100,"r":1050},{"x":10000,"y":-200,"r":1100},{"x":10000,"y":-300,"r":1200},{"x":10000,"y":-400,"r":1300},{"x":10000,"y":-500,"r":1400},{"x":10000,"y":-600,"r":1500},{"x":10000,"y":-700,"r":1600},{"x":10000,"y":-800,"r":1650}
],
"bar":[{"x":3216,"y":-2082,"r":160},{"x":3349,"y":-2082,"r":173},{"x":3482,"y":-2082,"r":186},{"x":3615,"y":-2082,"r":198},{"x":3748,"y":-2082,"r":211},{"x":3882,"y":-2082,"r":223},{"x":4015,"y":-2082,"r":231},{"x":4148,"y":-2082,"r":238},{"x":4281,"y":-2082,"r":245},{"x":4414,"y":-2082,"r":252},{"x":4547,"y":-2082,"r":260},{"x":4680,"y":-2082,"r":267},{"x":4813,"y":-2082,"r":274},{"x":4946,"y":-2082,"r":282},{"x":5079,"y":-2082,"r":289},{"x":5212,"y":-2082,"r":297},{"x":5346,"y":-2082,"r":304},{"x":5479,"y":-2082,"r":312},{"x":5612,"y":-2082,"r":321},{"x":5745,"y":-2082,"r":329},{"x":5878,"y":-2082,"r":338},{"x":6011,"y":-2082,"r":346},{"x":6144,"y":-2082,"r":356},{"x":6277,"y":-2082,"r":369},{"x":6410,"y":-2082,"r":382},{"x":6543,"y":-2082,"r":394},{"x":6677,"y":-2082,"r":407},{"x":6810,"y":-2082,"r":420},{"x":6943,"y":-2082,"r":443},{"x":7076,"y":-2082,"r":469},{"x":7209,"y":-2082,"r":496},{"x":7342,"y":-2082,"r":522},{"x":7475,"y":-2082,"r":548},{"x":7608,"y":-2082,"r":577},{"x":7741,"y":-2082,"r":642},{"x":7874,"y":-2082,"r":707},{"x":8008,"y":-2082,"r":773},{"x":8141,"y":-2082,"r":838},{"x":8274,"y":-2082,"r":904},{"x":8407,"y":-2082,"r":992},{"x":8540,"y":-2082,"r":1105},{"x":8673,"y":-2082,"r":1218},{"x":8806,"y":-2082,"r":1331},{"x":8939,"y":-2082,"r":1444},{"x":9072,"y":-2082,"r":1557},{"x":9205,"y":-2082,"r":1903},{"x":9339,"y":-2082,"r":2296},{"x":9472,"y":-2082,"r":2688},{"x":9605,"y":-2082,"r":3080},{"x":9738,"y":-2082,"r":3473}]
},
"encoding":{"x":{"field":"x","type":"quantitative","scale":{"domain":[3320,10000],"nice":false,"zero":false},"axis":{"values":[4000,6000,8000,10000],"format":"d","title":null,"grid":false,"domain":false,"labelFlush":false,"labelBound":false,"labelOverlap":false,"tickColor":"#dddddd","tickSize":6,"labelFont":"Roboto","labelFontSize":19.5,"labelColor":"#333333","labelPadding":20}},"y":{"field":"y","type":"quantitative","scale":{"domain":[-1000,1000],"nice":false,"zero":false},"axis":{"values":[-1000,-500,0,500,1000],"labelExpr":"'' + datum.value","title":null,"grid":false,"domain":false,"labelFlush":false,"labelBound":false,"labelOverlap":false,"tickSize":0,"labelFont":"Roboto","labelFontSize":19.5,"labelColor":"#333333","labelPadding":31}}},
"resolve":{"scale":{"color":"independent"}},
"layer":[
{"encoding":{"color":{"field":"r","type":"quantitative","legend":null,"scale":{"domain":[154,227,264,306,325,352,424,537,573,936,1576,3691],"range":["#800000","#ff0000","#ff6a00","#ffd000","#ffff00","#c0ff40","#50ffb0","#00ffff","#00e8ff","#0070ff","#0000f5","#000078"],"interpolate":"rgb","clamp":true}}},
"layer":[
{"data":{"name":"grid"},"mark":{"type":"rect","width":15,"height":15,"xOffset":-3.5,"yOffset":-3.5}},
{"data":{"name":"grid"},"mark":{"type":"rect","width":15,"height":15,"xOffset":3.5,"yOffset":3.5,"opacity":0.5}},
{"data":{"name":"grid"},"mark":{"type":"rect","width":15,"height":15,"xOffset":3.5,"yOffset":-3.5,"opacity":0.33}},
{"data":{"name":"grid"},"mark":{"type":"rect","width":15,"height":15,"xOffset":-3.5,"yOffset":3.5,"opacity":0.25}},
{"data":{"values":[{"x":3335,"y":600,"y2":450,"r":300},{"x":3423,"y":600,"y2":427,"r":300},{"x":3505,"y":600,"y2":457,"r":300},{"x":3593,"y":600,"y2":524,"r":300},{"x":3690,"y":600,"y2":575,"r":300}]},"mark":{"type":"area","interpolate":"monotone"},"encoding":{"y2":{"field":"y2"}}},
{"data":{"values":[{"x":3335,"y":600,"y2":472,"r":185},{"x":3423,"y":600,"y2":450,"r":185},{"x":3505,"y":600,"y2":487,"r":185},{"x":3570,"y":600,"y2":545,"r":185}]},"mark":{"type":"area","interpolate":"monotone"},"encoding":{"y2":{"field":"y2"}}},
{"data":{"name":"bar"},"mark":{"type":"rect","width":18.6,"height":31}}
]},
{"data":{"values":[{"x":3250,"y":546},{"x":3335,"y":546},{"x":3423,"y":509},{"x":3505,"y":532},{"x":3593,"y":561},{"x":3852,"y":599},{"x":3948,"y":658},{"x":4089,"y":732},{"x":4495,"y":732},{"x":4592,"y":717},{"x":4791,"y":732},{"x":4909,"y":717},{"x":5035,"y":784},{"x":5205,"y":844},{"x":5309,"y":799},{"x":5427,"y":807},{"x":5501,"y":762},{"x":5627,"y":762},{"x":5775,"y":822},{"x":5974,"y":859},{"x":6196,"y":866},{"x":6418,"y":784},{"x":6662,"y":829},{"x":6906,"y":926},{"x":7105,"y":1000},{"x":7275,"y":1030},{"x":7475,"y":993},{"x":7660,"y":955},{"x":7771,"y":881},{"x":8015,"y":874},{"x":8237,"y":918},{"x":8385,"y":1015},{"x":8562,"y":1067},{"x":8754,"y":1015},{"x":8954,"y":926},{"x":9102,"y":918},{"x":9228,"y":955},{"x":9375,"y":918},{"x":9745,"y":799},{"x":9930,"y":807},{"x":10170,"y":807}]},"mark":{"type":"area","color":"white","interpolate":"monotone"},"encoding":{"y2":{"datum":1300}}},
{"data":{"values":[{"x":3250,"y":-918},{"x":3335,"y":-918},{"x":4000,"y":-866},{"x":4148,"y":-851},{"x":4495,"y":-807},{"x":4791,"y":-732},{"x":5235,"y":-665},{"x":5723,"y":-621},{"x":6196,"y":-584},{"x":6662,"y":-554},{"x":7032,"y":-517},{"x":7645,"y":-509},{"x":8067,"y":-505},{"x":8636,"y":-509},{"x":9006,"y":-554},{"x":9375,"y":-621},{"x":9930,"y":-725},{"x":10170,"y":-725}]},"mark":{"type":"area","color":"white","interpolate":"monotone"},"encoding":{"y2":{"datum":-1010}}},
{"data":{"values":[{"x":3180,"x2":3335,"y":-1010,"y2":1300},{"x":9930,"x2":10170,"y":-1010,"y2":1300}]},"mark":{"type":"rect","color":"white"},"encoding":{"x2":{"field":"x2"},"y2":{"field":"y2"}}},
{"data":{"values":[{"x":3320,"x2":3320,"y":-1000,"y2":1000},{"x":10000,"x2":10000,"y":-1000,"y2":1000},{"x":4000,"x2":4000,"y":1000,"y2":690},{"x":4000,"x2":4000,"y":-866,"y2":-1000},{"x":6000,"x2":6000,"y":1000,"y2":862},{"x":6000,"x2":6000,"y":-610,"y2":-1000},{"x":8000,"x2":8000,"y":1000,"y2":876},{"x":8000,"x2":8000,"y":-506,"y2":-1000},{"x":3320,"x2":7105,"y":1000,"y2":1000},{"x":7475,"x2":8385,"y":1000,"y2":1000},{"x":8754,"x2":10000,"y":1000,"y2":1000},{"x":3320,"x2":10000,"y":-1000,"y2":-1000},{"x":9930,"x2":10000,"y":500,"y2":500},{"x":9930,"x2":10000,"y":0,"y2":0},{"x":9930,"x2":10000,"y":-500,"y2":-500},{"x":3320,"x2":3335,"y":500,"y2":500},{"x":3320,"x2":3335,"y":0,"y2":0},{"x":3320,"x2":3335,"y":-500,"y2":-500}]},"mark":{"type":"rule","color":"#e2e2e2","strokeWidth":1.5},"encoding":{"x2":{"field":"x2"},"y2":{"field":"y2"}}},
{"data":{"values":[{"x":1634,"x2":10788,"y":3706,"y2":3706},{"x":1634,"x2":1634,"y":3706,"y2":-2993}]},"mark":{"type":"rule","color":"#000000","strokeWidth":2.5},"encoding":{"x2":{"field":"x2"},"y2":{"field":"y2"}}},
{"data":{"values":[{"x":2100,"x2":2957,"y":2784,"y2":2725}]},"mark":{"type":"rect","color":{"gradient":"linear","x1":0,"y1":0,"x2":1,"y2":0,"stops":[{"offset":0,"color":"#e5304d"},{"offset":1,"color":"#f6c95f"}]}},"encoding":{"x2":{"field":"x2"},"y2":{"field":"y2"}}},
{"data":{"values":[{"x":8252,"x2":9989,"y":3416,"y2":1520}]},"mark":{"type":"rect","fill":"white","stroke":"#111111","strokeWidth":2.5},"encoding":{"x2":{"field":"x2"},"y2":{"field":"y2"}}},
{"data":{"values":[
{"x":8891,"y":3300,"m":2},{"x":8966,"y":3277,"m":2},{"x":9040,"y":3254,"m":3},{"x":9115,"y":3231,"m":4},{"x":9189,"y":3208,"m":5},{"x":9264,"y":3185,"m":6},{"x":9338,"y":3163,"m":4},{"x":9413,"y":3140,"m":3},{"x":9487,"y":3117,"m":2},{"x":9562,"y":3094,"m":3},{"x":9636,"y":3071,"m":4},{"x":9711,"y":3048,"m":3},
{"x":8869,"y":3223,"m":1},{"x":8944,"y":3200,"m":3},{"x":9018,"y":3177,"m":2},{"x":9093,"y":3154,"m":2},{"x":9167,"y":3131,"m":4},{"x":9242,"y":3108,"m":3},{"x":9316,"y":3086,"m":2},{"x":9391,"y":3063,"m":1},{"x":9465,"y":3040,"m":2},{"x":9540,"y":3017,"m":3},{"x":9614,"y":2994,"m":4},{"x":9689,"y":2971,"m":3},
{"x":8847,"y":3147,"m":1},{"x":8922,"y":3124,"m":3},{"x":8996,"y":3101,"m":4},{"x":9071,"y":3078,"m":2},{"x":9145,"y":3055,"m":2},{"x":9220,"y":3032,"m":3},{"x":9294,"y":3010,"m":2},{"x":9369,"y":2987,"m":1},{"x":9443,"y":2964,"m":2},{"x":9518,"y":2941,"m":3},{"x":9592,"y":2918,"m":4},{"x":9667,"y":2895,"m":3},
{"x":8824,"y":3070,"m":2},{"x":8899,"y":3047,"m":2},{"x":8973,"y":3024,"m":5},{"x":9048,"y":3001,"m":3},{"x":9122,"y":2978,"m":2},{"x":9197,"y":2955,"m":3},{"x":9271,"y":2933,"m":4},{"x":9346,"y":2910,"m":2},{"x":9420,"y":2887,"m":1},{"x":9495,"y":2864,"m":4},{"x":9569,"y":2841,"m":4},{"x":9644,"y":2818,"m":3},
{"x":8802,"y":2993,"m":3},{"x":8877,"y":2970,"m":2},{"x":8951,"y":2947,"m":4},{"x":9026,"y":2924,"m":1},{"x":9100,"y":2901,"m":1},{"x":9175,"y":2878,"m":2},{"x":9249,"y":2856,"m":3},{"x":9324,"y":2833,"m":5},{"x":9398,"y":2810,"m":5},{"x":9473,"y":2787,"m":4},{"x":9547,"y":2764,"m":3},{"x":9622,"y":2741,"m":2},
{"x":8780,"y":2917,"m":2},{"x":8855,"y":2894,"m":1},{"x":8929,"y":2871,"m":0},{"x":9004,"y":2848,"m":1},{"x":9078,"y":2825,"m":1},{"x":9153,"y":2802,"m":2},{"x":9227,"y":2780,"m":4},{"x":9302,"y":2757,"m":6},{"x":9376,"y":2734,"m":5},{"x":9451,"y":2711,"m":4},{"x":9525,"y":2688,"m":3},{"x":9600,"y":2665,"m":2},
{"x":8758,"y":2840,"m":2},{"x":8833,"y":2817,"m":0},{"x":8907,"y":2794,"m":0},{"x":8982,"y":2771,"m":2},{"x":9056,"y":2748,"m":4},{"x":9131,"y":2725,"m":2},{"x":9205,"y":2703,"m":4},{"x":9280,"y":2680,"m":5},{"x":9354,"y":2657,"m":2},{"x":9429,"y":2634,"m":5},{"x":9503,"y":2611,"m":3},{"x":9578,"y":2588,"m":2},
{"x":8736,"y":2764,"m":2},{"x":8811,"y":2741,"m":1},{"x":8885,"y":2718,"m":1},{"x":8960,"y":2695,"m":2},{"x":9034,"y":2672,"m":3},{"x":9109,"y":2649,"m":2},{"x":9183,"y":2627,"m":3},{"x":9258,"y":2604,"m":5},{"x":9332,"y":2581,"m":6},{"x":9407,"y":2558,"m":4},{"x":9481,"y":2535,"m":3},{"x":9556,"y":2512,"m":2},
{"x":8713,"y":2687,"m":3},{"x":8788,"y":2664,"m":2},{"x":8862,"y":2641,"m":1},{"x":8937,"y":2618,"m":1},{"x":9011,"y":2595,"m":2},{"x":9086,"y":2572,"m":2},{"x":9160,"y":2550,"m":4},{"x":9235,"y":2527,"m":5},{"x":9309,"y":2504,"m":6},{"x":9384,"y":2481,"m":5},{"x":9458,"y":2458,"m":3},{"x":9533,"y":2435,"m":2},
{"x":8691,"y":2610,"m":2},{"x":8766,"y":2587,"m":5},{"x":8840,"y":2564,"m":2},{"x":8915,"y":2541,"m":1},{"x":8989,"y":2518,"m":1},{"x":9064,"y":2495,"m":2},{"x":9138,"y":2473,"m":3},{"x":9213,"y":2450,"m":4},{"x":9287,"y":2427,"m":5},{"x":9362,"y":2404,"m":4},{"x":9436,"y":2381,"m":6},{"x":9511,"y":2358,"m":3},
{"x":8669,"y":2534,"m":3},{"x":8744,"y":2511,"m":2},{"x":8818,"y":2488,"m":0},{"x":8893,"y":2465,"m":0},{"x":8967,"y":2442,"m":1},{"x":9042,"y":2419,"m":2},{"x":9116,"y":2397,"m":3},{"x":9191,"y":2374,"m":4},{"x":9265,"y":2351,"m":4},{"x":9340,"y":2328,"m":4},{"x":9414,"y":2305,"m":5},{"x":9489,"y":2282,"m":1},
{"x":8647,"y":2457,"m":3},{"x":8722,"y":2434,"m":0},{"x":8796,"y":2411,"m":0},{"x":8871,"y":2388,"m":0},{"x":8945,"y":2365,"m":1},{"x":9020,"y":2342,"m":3},{"x":9094,"y":2320,"m":4},{"x":9169,"y":2297,"m":5},{"x":9243,"y":2274,"m":4},{"x":9318,"y":2251,"m":5},{"x":9392,"y":2228,"m":2},{"x":9467,"y":2205,"m":1},
{"x":8625,"y":2381,"m":4},{"x":8700,"y":2358,"m":2},{"x":8774,"y":2335,"m":1},{"x":8849,"y":2312,"m":1},{"x":8923,"y":2289,"m":2},{"x":8998,"y":2266,"m":3},{"x":9072,"y":2244,"m":5},{"x":9147,"y":2221,"m":4},{"x":9221,"y":2198,"m":3},{"x":9296,"y":2175,"m":2},{"x":9370,"y":2152,"m":1},{"x":9445,"y":2129,"m":0},
{"x":8602,"y":2304,"m":4},{"x":8677,"y":2281,"m":3},{"x":8751,"y":2258,"m":2},{"x":8826,"y":2235,"m":2},{"x":8900,"y":2212,"m":2},{"x":8975,"y":2189,"m":4},{"x":9049,"y":2167,"m":5},{"x":9124,"y":2144,"m":4},{"x":9198,"y":2121,"m":2},{"x":9273,"y":2098,"m":1},{"x":9347,"y":2075,"m":0},{"x":9422,"y":2052,"m":1},
{"x":8580,"y":2227,"m":2},{"x":8655,"y":2204,"m":2},{"x":8729,"y":2181,"m":3},{"x":8804,"y":2158,"m":2},{"x":8878,"y":2135,"m":3},{"x":8953,"y":2112,"m":4},{"x":9027,"y":2090,"m":5},{"x":9102,"y":2067,"m":5},{"x":9176,"y":2044,"m":3},{"x":9251,"y":2021,"m":2},{"x":9325,"y":1998,"m":1},{"x":9400,"y":1975,"m":1},
{"x":8558,"y":2151,"m":1},{"x":8633,"y":2128,"m":2},{"x":8707,"y":2105,"m":3},{"x":8782,"y":2082,"m":3},{"x":8856,"y":2059,"m":4},{"x":8931,"y":2036,"m":5},{"x":9005,"y":2014,"m":6},{"x":9080,"y":1991,"m":4},{"x":9154,"y":1968,"m":2},{"x":9229,"y":1945,"m":3},{"x":9303,"y":1922,"m":1},{"x":9378,"y":1899,"m":2},
{"x":8536,"y":2074,"m":1},{"x":8611,"y":2051,"m":3},{"x":8685,"y":2028,"m":4},{"x":8760,"y":2005,"m":4},{"x":8834,"y":1982,"m":3},{"x":8909,"y":1959,"m":5},{"x":8983,"y":1937,"m":6},{"x":9058,"y":1914,"m":4},{"x":9132,"y":1891,"m":1},{"x":9207,"y":1868,"m":4},{"x":9281,"y":1845,"m":2},{"x":9356,"y":1822,"m":1},
{"x":8514,"y":1998,"m":1},{"x":8589,"y":1975,"m":2},{"x":8663,"y":1952,"m":4},{"x":8738,"y":1929,"m":5},{"x":8812,"y":1906,"m":4},{"x":8887,"y":1883,"m":4},{"x":8961,"y":1861,"m":6},{"x":9036,"y":1838,"m":5},{"x":9110,"y":1815,"m":2},{"x":9185,"y":1792,"m":2},{"x":9259,"y":1769,"m":0},{"x":9334,"y":1746,"m":1},
{"x":8491,"y":1921,"m":1},{"x":8566,"y":1898,"m":2},{"x":8640,"y":1875,"m":4},{"x":8715,"y":1852,"m":5},{"x":8789,"y":1829,"m":5},{"x":8864,"y":1806,"m":3},{"x":8938,"y":1784,"m":4},{"x":9013,"y":1761,"m":4},{"x":9087,"y":1738,"m":3},{"x":9162,"y":1715,"m":1},{"x":9236,"y":1692,"m":0},{"x":9311,"y":1669,"m":2},
{"x":8469,"y":1844,"m":2},{"x":8544,"y":1821,"m":3},{"x":8618,"y":1798,"m":4},{"x":8693,"y":1775,"m":4},{"x":8767,"y":1752,"m":4},{"x":8842,"y":1729,"m":3},{"x":8916,"y":1707,"m":2},{"x":8991,"y":1684,"m":4},{"x":9065,"y":1661,"m":5},{"x":9140,"y":1638,"m":3},{"x":9214,"y":1615,"m":1},{"x":9289,"y":1592,"m":2}
]},"mark":{"type":"square","size":125,"opacity":1},"encoding":{"angle":{"value":17},"color":{"field":"m","type":"ordinal","legend":null,"scale":{"domain":[0,1,2,3,4,5,6],"range":["#0418f0","#10e4e8","#48f048","#f8f000","#f82420","#f020c0","#ffa4f0"]}}}},
{"data":{"values":[{"x":9324,"x2":8769,"y":3223,"y2":1706},{"x":9634,"x2":9080,"y":3126,"y2":1610},{"x":8924,"x2":9449,"y":2457,"y2":2279}]},"mark":{"type":"rule","color":"#000000","strokeWidth":3},"encoding":{"x2":{"field":"x2"},"y2":{"field":"y2"}}},
{"data":{"values":[{"x":8843,"y":2517,"t":"A"},{"x":9634,"y":2323,"t":"A’"}]},"mark":{"type":"text","font":"Roboto","fontWeight":"bold","fontSize":17,"color":"#111111"},"encoding":{"text":{"field":"t"}}},
{"data":{"values":[{"x":2078,"y":2985,"t":"Cross Section"}]},"mark":{"type":"text","font":"Inter","fontWeight":"bold","fontSize":36.8,"align":"left","color":"#0a0a0a"},"encoding":{"text":{"field":"t"}}},
{"data":{"values":[{"x":2484,"y":1440,"t":"A"},{"x":10263,"y":1440,"t":"A’"}]},"mark":{"type":"text","font":"Roboto","fontWeight":900,"fontSize":46,"color":"#000000"},"encoding":{"text":{"field":"t"}}},
{"data":{"values":[{"x":6189,"y":2234,"t":"Magiabe"},{"x":6189,"y":2026,"t":"Porphyry"}]},"mark":{"type":"text","font":"Roboto","fontWeight":"bold","fontSize":22,"color":"#000000"},"encoding":{"text":{"field":"t"}}},
{"data":{"values":[{"x":7268,"y":1610,"t":"Wild Dog"},{"x":7268,"y":1424,"t":"Structure"}]},"mark":{"type":"text","font":"Roboto","fontWeight":"bold","fontSize":21.5,"color":"#000000"},"encoding":{"text":{"field":"t"}}},
{"data":{"values":[{"x":4370,"y":1602,"t":"Potential New"},{"x":4370,"y":1431,"t":"Epithermal System"}]},"mark":{"type":"text","font":"Roboto","fontSize":18.3,"color":"#222222"},"encoding":{"text":{"field":"t"}}},
{"data":{"values":[{"x":6189,"y":-784,"t":"alteration zones"}]},"mark":{"type":"text","font":"Roboto","fontWeight":"bold","fontSize":18.3,"color":"#000000"},"encoding":{"text":{"field":"t"}}},
{"data":{"values":[{"x":2706,"y":-1587,"t":"Line Viewing: Northeast"}]},"mark":{"type":"text","font":"Roboto","fontSize":26,"align":"left","color":"#222222"},"encoding":{"text":{"field":"t"}}},
{"data":{"values":[{"x":5368,"y":-1587,"t":"Distance (m)"},{"x":6477,"y":-2569,"t":"Resistivity (Ohm-m)"}]},"mark":{"type":"text","font":"Roboto","fontSize":18.7,"color":"#333333"},"encoding":{"text":{"field":"t"}}},
{"data":{"values":[{"x":2462,"y":-11,"t":"Depth (m)"}]},"mark":{"type":"text","font":"Roboto","fontSize":18,"angle":270,"color":"#333333"},"encoding":{"text":{"field":"t"}}},
{"data":{"values":[{"x":3135,"y":-2331,"t":"154"},{"x":3874,"y":-2331,"t":"223"},{"x":4621,"y":-2331,"t":"264"},{"x":5375,"y":-2331,"t":"306"},{"x":6107,"y":-2331,"t":"352"},{"x":6847,"y":-2331,"t":"424"},{"x":7601,"y":-2331,"t":"573"},{"x":8341,"y":-2331,"t":"936"},{"x":9095,"y":-2331,"t":"1576"},{"x":9804,"y":-2331,"t":"3691"}]},"mark":{"type":"text","font":"Roboto","fontSize":19,"color":"#333333"},"encoding":{"text":{"field":"t"}}},
{"data":{"values":[{"x":6196,"x2":6196,"y":1833,"y2":123}]},"mark":{"type":"rule","color":"#000000","strokeWidth":4,"strokeDash":[3,2.5]},"encoding":{"x2":{"field":"x2"},"y2":{"field":"y2"}}},
{"data":{"values":[{"o":1,"x":6181,"y":866},{"o":2,"x":6418,"y":767},{"o":3,"x":6591,"y":494},{"o":4,"x":6654,"y":123},{"o":5,"x":6591,"y":-249},{"o":6,"x":6418,"y":-521},{"o":7,"x":6181,"y":-621},{"o":8,"x":5945,"y":-521},{"o":9,"x":5772,"y":-249},{"o":10,"x":5708,"y":123},{"o":11,"x":5772,"y":494},{"o":12,"x":5945,"y":767}]},"mark":{"type":"line","interpolate":"cardinal-closed","color":"#000000","strokeWidth":4,"strokeDash":[3,2.5]},"encoding":{"order":{"field":"o"}}},
{"data":{"values":[{"o":1,"x":5353,"y":316},{"o":2,"x":5301,"y":11},{"o":3,"x":5309,"y":-234},{"o":4,"x":5353,"y":-509},{"o":5,"x":5442,"y":-703},{"o":6,"x":5604,"y":-881}]},"mark":{"type":"line","interpolate":"cardinal","color":"#111111","strokeWidth":1.8,"strokeDash":[6,3]},"encoding":{"order":{"field":"o"}}},
{"data":{"values":[{"o":1,"x":7239,"y":591},{"o":2,"x":7209,"y":286},{"o":3,"x":7157,"y":-182},{"o":4,"x":7068,"y":-480},{"o":5,"x":6935,"y":-732},{"o":6,"x":6780,"y":-911}]},"mark":{"type":"line","interpolate":"cardinal","color":"#111111","strokeWidth":1.8,"strokeDash":[6,3]},"encoding":{"order":{"field":"o"}}},
{"data":{"values":[{"o":1,"x":5242,"y":353},{"o":2,"x":5383,"y":442},{"o":3,"x":5471,"y":309}]},"mark":{"type":"line","color":"#111111","strokeWidth":1.8},"encoding":{"order":{"field":"o"}}},
{"data":{"values":[{"o":1,"x":7128,"y":584},{"o":2,"x":7246,"y":703},{"o":3,"x":7364,"y":576}]},"mark":{"type":"line","color":"#111111","strokeWidth":1.8},"encoding":{"order":{"field":"o"}}},
{"data":{"values":[{"x":4347,"x2":5257,"y":1349,"y2":18}]},"mark":{"type":"rule","color":"#222222","strokeWidth":1.2},"encoding":{"x2":{"field":"x2"},"y2":{"field":"y2"}}},
{"data":{"values":[{"x":7268,"x2":7268,"y":1312,"y2":1100}]},"mark":{"type":"rule","color":"#000000","strokeWidth":1.8},"encoding":{"x2":{"field":"x2"},"y2":{"field":"y2"}}},
{"data":{"values":[{"x":7268,"y":1085}]},"mark":{"type":"point","shape":"triangle-down","filled":true,"size":70,"color":"#000000","opacity":1}}
]}
